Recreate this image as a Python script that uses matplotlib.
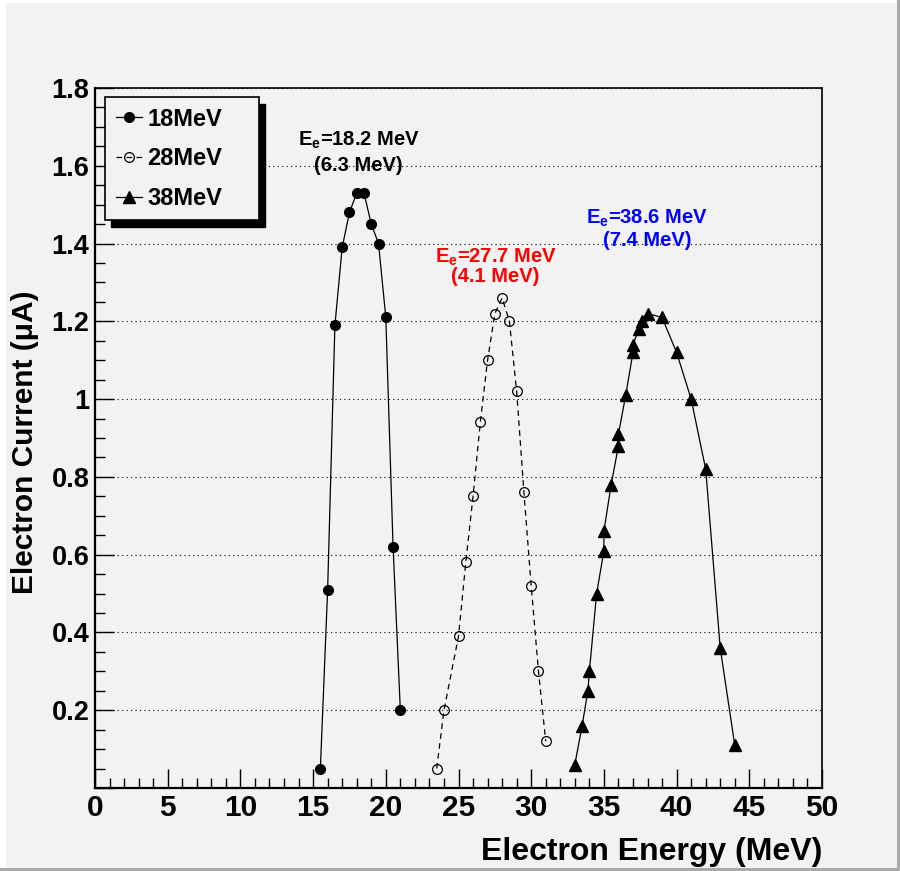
import matplotlib
matplotlib.use("Agg")
import matplotlib.pyplot as plt
from matplotlib.patches import Rectangle
from matplotlib.ticker import MultipleLocator, FuncFormatter

# electron current (uA) vs electron energy (MeV) for the three settings
e18 = [15.5, 16, 16.5, 17, 17.5, 18, 18.5, 19, 19.5, 20, 20.5, 21]
i18 = [0.05, 0.51, 1.19, 1.39, 1.48, 1.53, 1.53, 1.45, 1.40, 1.21, 0.62, 0.20]

e28 = [23.5, 24, 25, 25.5, 26, 26.5, 27, 27.5, 28, 28.5, 29, 29.5, 30, 30.5, 31]
i28 = [0.05, 0.20, 0.39, 0.58, 0.75, 0.94, 1.10, 1.22, 1.26, 1.20, 1.02, 0.76, 0.52, 0.30, 0.12]

e38 = [33, 33.5, 33.9, 34, 34.5, 35, 35, 35.5, 36, 36, 36.5, 37, 37,
       37.4, 37.6, 38, 39, 40, 41, 42, 43, 44]
i38 = [0.06, 0.16, 0.25, 0.30, 0.50, 0.61, 0.66, 0.78, 0.88, 0.91, 1.01, 1.12, 1.14,
       1.18, 1.20, 1.22, 1.21, 1.12, 1.00, 0.82, 0.36, 0.11]

labels = ["18MeV", "28MeV", "38MeV"]
peak_e = ["18.2", "27.7", "38.6"]
width_e = ["6.3", "4.1", "7.4"]

bg = "#f2f2f2"

plt.rcParams["font.family"] = ["Liberation Sans", "DejaVu Sans"]
plt.rcParams["font.weight"] = "bold"
plt.rcParams["mathtext.fontset"] = "custom"
plt.rcParams["mathtext.bf"] = "Liberation Sans:bold"
plt.rcParams["mathtext.rm"] = "Liberation Sans:bold"

fig = plt.figure(figsize=(9, 8.71), dpi=100, facecolor=bg)
ax = fig.add_axes([95 / 900, 83 / 871, 727 / 900, 700 / 871], facecolor=bg)

ax.plot(e18, i18, "-o", color="k", lw=0.9, ms=7, label=labels[0], zorder=3)
ax.plot(e28, i28, "o", ls=(0, (4.5, 3.5)), color="k", mfc="none", mec="k",
        mew=0.9, lw=0.9, ms=7, label=labels[1], zorder=3)
ax.plot(e38, i38, "-^", color="k", lw=0.9, ms=9, label=labels[2], zorder=3)

ax.set_xlim(0, 50)
ax.set_ylim(0, 1.8)
ax.xaxis.set_major_locator(MultipleLocator(5))
ax.xaxis.set_minor_locator(MultipleLocator(1))
ax.yaxis.set_major_locator(MultipleLocator(0.2))
ax.yaxis.set_minor_locator(MultipleLocator(0.05))
ax.xaxis.set_major_formatter(FuncFormatter(lambda v, p: f"{v:g}"))
ax.yaxis.set_major_formatter(FuncFormatter(lambda v, p: "" if v < 0.1 else f"{v:g}"))

ax.tick_params(which="both", direction="in", top=False, right=False, width=1)
ax.tick_params(which="major", length=14)
ax.tick_params(which="minor", length=7)
ax.tick_params(axis="x", pad=4, labelsize=21.5)
ax.tick_params(axis="y", pad=4, labelsize=19.5)

for side in ["left", "bottom"]:
    ax.spines[side].set_linewidth(1.6)
for side in ["top", "right"]:
    ax.spines[side].set_linewidth(1.2)

ax.yaxis.grid(True, which="major", ls=(0, (1, 3)), lw=0.8, color="k")
ax.set_axisbelow(True)

fig.text(822 / 900, 1 - 860 / 871, "Electron Energy (MeV)", ha="right", va="baseline",
         size=23, weight="bold")
fig.text(25 / 900, 1 - 442 / 871, "Electron Current (μA)", rotation=90,
         ha="center", va="center", size=21.5, weight="bold")

# peak energy / spread labels
note_pos = [(18.13, 1.652, 1.587), (27.54, 1.352, 1.301), (37.95, 1.451, 1.395)]
note_col = ["k", "#ff0000", "#0000ff"]
for (x, y1, y2), pk, wd, c in zip(note_pos, peak_e, width_e, note_col):
    ax.text(x, y1, r"E$_{\mathbf{e}}$=" + pk + " MeV", ha="center", va="baseline",
            color=c, size=14.5, weight="bold")
    ax.text(x, y2, "(" + wd + " MeV)", ha="center", va="baseline",
            color=c, size=14.5, weight="bold")

leg = ax.legend(loc="upper left", bbox_to_anchor=(0.0138, 0.814, 0.2118, 0.173),
                mode="expand", borderaxespad=0, fontsize=17, handlelength=1.1,
                handletextpad=0.25, labelspacing=0.7, borderpad=0.45,
                fancybox=False, edgecolor="k", facecolor=bg, framealpha=1)
leg.get_frame().set_linewidth(1.2)
for t in leg.get_texts():
    t.set_weight("bold")

fig.canvas.draw()
bb = leg.get_frame().get_window_extent().transformed(ax.transAxes.inverted())
shadow = Rectangle((bb.x0 + 6 / 727, bb.y0 - 7 / 700), bb.width, bb.height,
                   transform=ax.transAxes, color="k", zorder=leg.get_zorder() - 0.1,
                   clip_on=False)
ax.add_patch(shadow)

# canvas bevel
fig.add_artist(Rectangle((0, 1 - 3 / 871), 1, 3 / 871, transform=fig.transFigure,
                         color="white", lw=0))
fig.add_artist(Rectangle((0, 0), 6 / 900, 1, transform=fig.transFigure,
                         color="white", lw=0))
fig.add_artist(Rectangle((0, 0), 1, 3 / 871, transform=fig.transFigure,
                         color="#aaaaaa", lw=0))
fig.add_artist(Rectangle((1 - 3 / 900, 0), 3 / 900, 1, transform=fig.transFigure,
                         color="#aaaaaa", lw=0))

fig.savefig("out.png", dpi=100, facecolor=bg)
